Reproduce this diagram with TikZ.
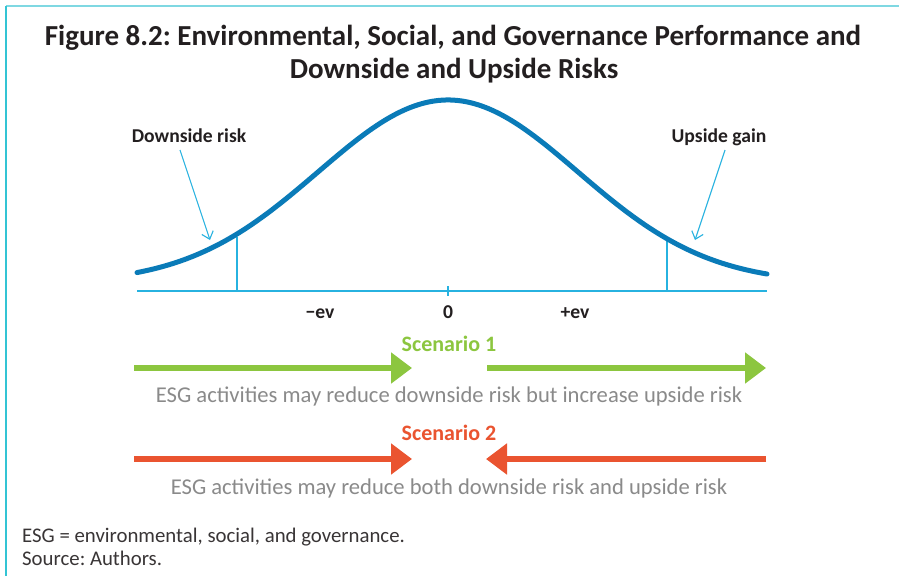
\documentclass[tikz,border=0pt]{standalone}
\usepackage{fontspec}
\setmainfont{Carlito}
\usetikzlibrary{arrows.meta}
\frenchspacing

\definecolor{framelight}{HTML}{7FD8E2}
\definecolor{frameside}{HTML}{33C4D4}
\definecolor{curveblue}{HTML}{0A7BB8}
\definecolor{axiscyan}{HTML}{27B2E0}
\definecolor{scengreen}{HTML}{8CC63F}
\definecolor{scenred}{HTML}{EA5430}
\definecolor{notegray}{HTML}{8A8A8A}
\definecolor{inkdark}{HTML}{231F20}

\tikzset{
  titletext/.style={font=\bfseries\fontsize{29}{32}\selectfont, text=inkdark, anchor=base, inner sep=0pt},
  marktext/.style={font=\bfseries\fontsize{19.6}{23}\selectfont, text=inkdark, anchor=base, inner sep=0pt},
  scentext/.style={font=\bfseries\fontsize{22}{26}\selectfont, anchor=base, inner sep=0pt},
  graytext/.style={font=\fontsize{22.6}{26}\selectfont, text=notegray, anchor=base, inner sep=0pt},
  foottext/.style={font=\fontsize{20.8}{24}\selectfont, text=inkdark!90, anchor=base west, inner sep=0pt},
  pointer/.style={draw=axiscyan, line width=1.1pt, -{Straight Barb[length=7pt,width=12pt]}},
  bigarrow/.style={line width=6pt, -{Triangle[length=21pt,width=30pt]}},
}

\begin{document}
\begin{tikzpicture}[x=1pt,y=-1pt]
  \useasboundingbox (0,0) rectangle (899,576);
  \fill[white] (0,0) rectangle (899,576);

  % frame
  \draw[framelight, line width=2pt] (6,6) -- (899,6);
  \draw[frameside, line width=1.6pt] (6,6) -- (6,576);

  % title
  \node[titletext] (title1) at (453,45) {Figure 8.2: Environmental, Social, and Governance Performance and};
  \node[titletext] (title2) at (454,78) {Downside and Upside Risks};

  % axis with centre tick and tail markers
  \coordinate (axL) at (137,291);
  \coordinate (axR) at (767,291);
  \draw[axiscyan, line width=1.3pt] (axL) -- (axR);
  \coordinate (tickT) at (448,286);
  \coordinate (tickB) at (448,296);
  \draw[axiscyan, line width=1.3pt] (tickT) -- (tickB);
  \coordinate (vLb) at (237,291);
  \coordinate (vLt) at (237,237);
  \coordinate (vRb) at (667,291);
  \coordinate (vRt) at (667,238);
  \draw[axiscyan, line width=1.1pt] (vLb) -- (vLt);
  \draw[axiscyan, line width=1.1pt] (vRb) -- (vRt);

  % bell curve
  \draw[curveblue, line width=5pt, line cap=round, line join=round]
    plot[domain=-311:319, samples=160, smooth] ({448+\x}, {283-183*exp(-0.5*(\x/130)*(\x/130))});

  % tail labels and pointers
  \node[marktext] (down) at (189,142) {Downside risk};
  \node[marktext] (up) at (719,142) {Upside gain};
  \coordinate (downS) at (180,150);
  \coordinate (downT) at (210,240);
  \coordinate (upS) at (725,150);
  \coordinate (upT) at (695,240);
  \draw[pointer] (downS) -- (downT);
  \draw[pointer] (upS) -- (upT);

  % axis labels
  \node[marktext] (mev) at (320,318) {−ev};
  \node[marktext] (zero) at (448,318) {0};
  \node[marktext] (pev) at (575,318) {+ev};

  % scenario 1
  \node[scentext, text=scengreen] (s1) at (449,351) {Scenario 1};
  \coordinate (s1a) at (134,368);
  \coordinate (s1b) at (412,368);
  \coordinate (s1c) at (487,368);
  \coordinate (s1d) at (766,368);
  \draw[bigarrow, scengreen] (s1a) -- (s1b);
  \draw[bigarrow, scengreen] (s1c) -- (s1d);
  \node[graytext] (s1note) at (449,402) {ESG activities may reduce downside risk but increase upside risk};

  % scenario 2
  \node[scentext, text=scenred] (s2) at (449,440) {Scenario 2};
  \coordinate (s2a) at (134,459);
  \coordinate (s2b) at (412,459);
  \coordinate (s2c) at (766,459);
  \coordinate (s2d) at (486,459);
  \draw[bigarrow, scenred] (s2a) -- (s2b);
  \draw[bigarrow, scenred] (s2c) -- (s2d);
  \node[graytext] (s2note) at (449,494) {ESG activities may reduce both downside risk and upside risk};

  % notes
  \node[foottext] (abbr) at (22,542) {ESG = environmental, social, and governance.};
  \node[foottext] (src) at (22,565) {Source: Authors.};
\end{tikzpicture}
\end{document}
